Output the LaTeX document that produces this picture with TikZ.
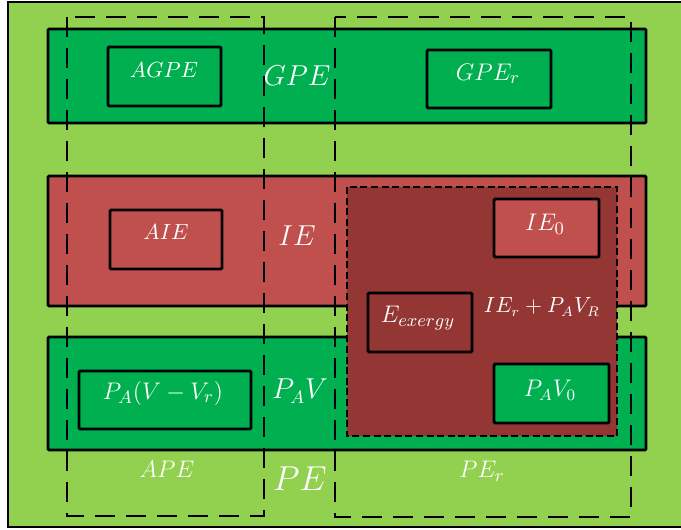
\documentclass[tikz,border=0pt]{standalone}
\usepackage{amsmath}
\usepackage{xcolor}
\usepackage{tikz}
\usetikzlibrary{positioning, calc}

\definecolor{grassgreen}{HTML}{92D050}
\definecolor{bandgreen}{HTML}{00B050}
\definecolor{bandred}{HTML}{C0504D}
\definecolor{exred}{HTML}{943634}

\tikzset{
  band/.style={draw=black, line width=1.4pt, rounded corners=0.6pt},
  box/.style={draw=black, line width=1.45pt, rounded corners=0.6pt},
  region/.style={draw=black, line width=1.45pt, dash pattern=on 10pt off 5.5pt},
  exregion/.style={draw=black, fill=exred, line width=1.1pt, dash pattern=on 3.5pt off 1.8pt},
  lbl/.style={text=white, inner sep=0pt},
  lblsize/.style={font=\fontsize{#1}{#1}\selectfont}
}

\begin{document}
\begin{tikzpicture}[x=0.5pt, y=-0.5pt]
          \useasboundingbox (0,0) rectangle (681,530);

          % background
          \draw[fill=grassgreen, line width=1pt] (8,2) rectangle (700,527);

          % the three bands
          \draw[band, fill=bandgreen] (48,29) rectangle (646,123);
          \draw[band, fill=bandred] (48,176) rectangle (646,306);
          \draw[band, fill=bandgreen] (48,337) rectangle (646,450);

          % exergy region
          \draw[exregion] (347,187) rectangle (617,436);

          % inner boxes
          \draw[box, fill=bandgreen] (108,47) rectangle (221,106);
          \draw[box, fill=bandgreen] (427,50) rectangle (551,108);
          \draw[box, fill=bandred] (110,210) rectangle (222,269);
          \draw[box, fill=bandred] (494,199) rectangle (599,257);
          \draw[box, fill=exred] (368,293) rectangle (472,352);
          \draw[box, fill=bandgreen] (494,364) rectangle (609,423);
          \draw[box, fill=bandgreen] (79,371) rectangle (251,429);

          % labels
          \node[lbl, lblsize=11] (agpe) at (164,70) {$AGPE$};
          \node[lbl, lblsize=14] (gpe) at (297,76) {$GPE$};
          \node[lbl, lblsize=12.5] (gper) at (488,74) {$GPE_r$};
          \node[lbl, lblsize=11] (aie) at (166,232) {$AIE$};
          \node[lbl, lblsize=15] (ie) at (297,236) {$IE$};
          \node[lbl, lblsize=12.5] (ieo) at (545,224) {$IE_0$};
          \node[lbl, lblsize=10.5] (ier) at (542,307) {$IE_r+P_AV_R$};
          \node[lbl, lblsize=12.5] (eex) at (418,318) {$E_{exergy}$};
          \node[lbl, lblsize=12] (pavo) at (550,390) {$P_AV_0$};
          \node[lbl, lblsize=12.5] (pavvr) at (163,393) {$P_A(V-V_r)$};
          \node[lbl, lblsize=13.5] (pav) at (300,391) {$P_AV$};
          \node[lbl, lblsize=13] (ape) at (167,469) {$APE$};
          \node[lbl, lblsize=18] (pe) at (300,479) {$PE$};
          \node[lbl, lblsize=13] (per) at (482,471) {$PE_r$};

          % dashed outlines of APE and PE_r
          \draw[region] (67,17) rectangle (264,516);
          \draw[region] (335,17) rectangle (631,517);
\end{tikzpicture}
\end{document}
